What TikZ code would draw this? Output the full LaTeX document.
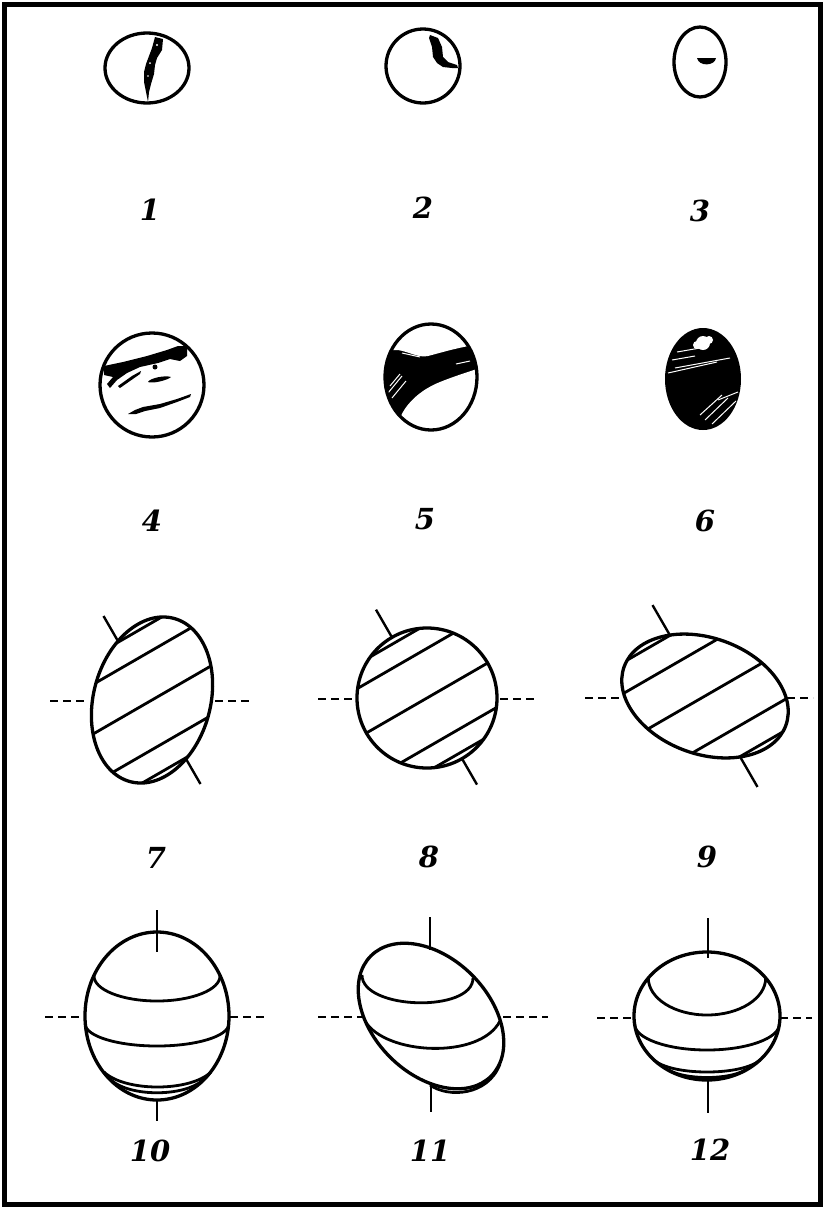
\documentclass[tikz,border=0pt]{standalone}
\usepackage{fontspec}
\newfontfamily\numfont{DejaVu Serif}
\begin{document}
\begin{tikzpicture}[x=1pt,y=1pt,
  outline/.style={line width=3.3pt},
  band/.style={line width=2.8pt},
  axisline/.style={line width=2.4pt},
  equator/.style={line width=2.6pt, dash pattern=on 8pt off 5pt},
  streak/.style={white, line width=1pt},
  lbl/.style={font=\fontsize{29}{29}\numfont\bfseries\itshape, inner sep=0pt}]
\useasboundingbox (0,0) rectangle (826,-1208);
\fill[white] (0,0) rectangle (826,-1208);
\draw[line width=5pt] (4,-4) rectangle (820,-1204);

% ---------- row 1 ----------
\draw[outline] (147,-68) ellipse [x radius=42, y radius=35];
\fill (155,-37) -- (163,-39) -- (162,-50) -- (157,-58) -- (155,-65) -- (154,-74) -- (151,-84)
  -- (149,-92) -- (148,-102) -- (146,-92) -- (144,-82) -- (144,-72) -- (146,-64) -- (149,-56)
  -- (152,-48) -- cycle;
\fill[white] (157,-45) circle [radius=1.2];
\fill[white] (150,-63) circle [radius=1];
\fill[white] (148,-76) circle [radius=0.8];

\draw[outline] (423,-66) circle [radius=37];
\fill (430,-35) -- (438,-38) -- (442,-47) -- (443,-57) -- (448,-62) -- (457,-65) -- (458,-68)
  -- (452,-68) -- (443,-67) -- (437,-63) -- (433,-57) -- (432,-47) -- (429,-38) -- cycle;

\draw[outline] (700,-62) ellipse [x radius=26, y radius=35];
\fill (697,-58) -- (716,-58) .. controls (715,-66) and (699,-67) .. (697,-58) -- cycle;

\node[lbl] (l1) at (150,-210) {1};
\node[lbl] (l2) at (423,-208) {2};
\node[lbl] (l3) at (700,-211) {3};

% ---------- row 2 ----------
\draw[outline] (152,-385) circle [radius=52];
\fill (104,-366) -- (123,-362) -- (147,-356) -- (167,-350) -- (178,-346) -- (187,-346)
  -- (187,-356) -- (180,-361) -- (170,-359) -- (158,-363) -- (140,-367) -- (127,-373)
  -- (117,-380) -- (110,-388) -- (107,-384) -- (113,-377) -- (104,-375) -- cycle;
\fill (118,-386) -- (132,-376) -- (141,-371) -- (140,-374) -- (130,-381) -- (120,-388) -- cycle;
\fill (148,-382) .. controls (150,-378) and (165,-375) .. (171,-377)
  .. controls (168,-380) and (153,-384) .. (148,-382) -- cycle;
\fill (155,-367) circle [radius=2.5];
\fill (128,-414) -- (135,-410) -- (143,-407) -- (160,-404) -- (177,-399) -- (191,-394)
  -- (190,-397) -- (177,-402) -- (160,-408) -- (145,-411) -- (136,-414) -- cycle;

\begin{scope}
  \clip (431,-377) ellipse [x radius=46, y radius=53];
  \fill (380,-320) rectangle (480,-435);
  \fill[white] (380,-320) -- (380,-350) -- (398,-350) .. controls (410,-352) and (418,-358) .. (428,-356)
    .. controls (440,-353) and (455,-348) .. (480,-344) -- (480,-320) -- cycle;
  \fill[white] (395,-440) -- (398,-424) .. controls (403,-405) and (420,-390) .. (440,-382)
    .. controls (455,-376) and (468,-372) .. (480,-368) -- (480,-440) -- cycle;
  \draw[streak] (388,-393) -- (402,-376);
  \draw[streak] (392,-398) -- (406,-381);
  \draw[streak] (390,-386) -- (400,-374);
  \draw[streak] (456,-364) -- (470,-361);
  \draw[streak] (402,-353) -- (420,-357);
\end{scope}
\draw[outline] (431,-377) ellipse [x radius=46, y radius=53];

\fill (703,-379) ellipse [x radius=38, y radius=51];
\fill[white] (703,-343) circle [radius=7];
\fill[white] (697,-345) circle [radius=4];
\fill[white] (709,-340) circle [radius=4];
\draw[streak] (668,-373) -- (717,-362);
\draw[streak] (675,-368) -- (730,-358);
\draw[streak] (677,-352) -- (700,-348);
\draw[streak] (672,-360) -- (695,-356);
\draw[streak] (700,-415) -- (722,-395);
\draw[streak] (705,-420) -- (728,-398);
\draw[streak] (712,-424) -- (736,-401);
\draw[streak] (718,-400) -- (738,-392);

\node[lbl] (l4) at (152,-521) {4};
\node[lbl] (l5) at (425,-519) {5};
\node[lbl] (l6) at (705,-521) {6};

% ---------- row 3 ----------
% 7
\draw[outline, rotate around={-15:(152,-700)}] (152,-700) ellipse [x radius=58.5, y radius=84.5];
\begin{scope}
  \clip[rotate around={-15:(152,-700)}] (152,-700) ellipse [x radius=58.5, y radius=84.5];
  \begin{scope}[shift={(152,-700)}, rotate=30]
    \foreach \d in {-43,0,43} \draw[band] (-150,\d) -- (150,\d);
    \draw[band] (-150,67) -- (150,67);
    \draw[band] (-150,-67) -- (150,-67);
  \end{scope}
\end{scope}
\begin{scope}[shift={(152,-700)}, rotate=30]
  \draw[axisline] (0,68) -- (0,97);
  \draw[axisline] (0,-68) -- (0,-97);
\end{scope}
\draw[equator] (50,-701) -- (87,-701);
\draw[equator] (215,-701) -- (253,-701);

% 8
\draw[outline] (427,-698) circle [radius=70];
\begin{scope}
  \clip (427,-698) circle [radius=70];
  \begin{scope}[shift={(427,-698)}, rotate=30]
    \foreach \d in {-43,0,43} \draw[band] (-150,\d) -- (150,\d);
    \draw[band] (-150,64) -- (150,64);
    \draw[band] (-150,-64) -- (150,-64);
  \end{scope}
\end{scope}
\begin{scope}[shift={(427,-698)}, rotate=30]
  \draw[axisline] (0,70) -- (0,102);
  \draw[axisline] (0,-70) -- (0,-100);
\end{scope}
\draw[equator] (318,-699) -- (355,-699);
\draw[equator] (500,-699) -- (538,-699);

% 9
\draw[outline, rotate around={-20:(705,-696)}] (705,-696) ellipse [x radius=86, y radius=58];
\begin{scope}
  \clip[rotate around={-20:(705,-696)}] (705,-696) ellipse [x radius=86, y radius=58];
  \begin{scope}[shift={(705,-696)}, rotate=30]
    \foreach \d in {-43,0,43} \draw[band] (-150,\d) -- (150,\d);
    \draw[band] (-150,70) -- (150,70);
    \draw[band] (-150,-70) -- (150,-70);
  \end{scope}
\end{scope}
\begin{scope}[shift={(705,-696)}, rotate=30]
  \draw[axisline] (0,71) -- (0,105);
  \draw[axisline] (0,-71) -- (0,-105);
\end{scope}
\draw[equator] (585,-698) -- (622,-698);
\draw[equator] (787,-698) -- (813,-698);

\node[lbl] (l7) at (156,-858) {7};
\node[lbl] (l8) at (429,-857) {8};
\node[lbl] (l9) at (707,-857) {9};

% ---------- row 4 ----------
% 10
\begin{scope}
  \clip (157,-1016) ellipse [x radius=72, y radius=84];
  \draw[band] (94,-976) arc [start angle=180, end angle=360, x radius=63, y radius=25];
  \draw[band] (85.3,-1024) arc [start angle=180, end angle=360, x radius=71.7, y radius=22];
\end{scope}
\draw[band] (104,-1072) .. controls (125,-1092) and (190,-1092) .. (211,-1072);
\draw[band] (111,-1080) .. controls (130,-1097) and (184,-1097) .. (203,-1080);
\draw[outline] (157,-1016) ellipse [x radius=72, y radius=84];
\draw[axisline] (157,-910) -- (157,-952);
\draw[axisline] (157,-1100) -- (157,-1121);
\draw[equator] (45,-1017) -- (83,-1017);
\draw[equator] (230,-1017) -- (268,-1017);

% 11
\begin{scope}
  \clip[rotate around={-45:(431,-1016)}] (431,-1016) ellipse [x radius=85, y radius=58];
  \draw[band] (362,-975) .. controls (362,-1010) and (473,-1013) .. (473,-978);
  \draw[band] (365,-1021) .. controls (385,-1055) and (480,-1060) .. (500,-1021);
\end{scope}
\draw[outline, rotate around={-45:(431,-1016)}] (431,-1016) ellipse [x radius=85, y radius=58];
\draw[band] (430,-1085) .. controls (448,-1098) and (488,-1096) .. (500,-1064);
\draw[axisline] (430,-917) -- (430,-950);
\draw[axisline] (431,-1082) -- (431,-1112);
\draw[equator] (318,-1017) -- (362,-1017);
\draw[equator] (503,-1017) -- (548,-1017);

% 12
\begin{scope}
  \clip (707,-1016) ellipse [x radius=73, y radius=64];
  \draw[band] (648.3,-978) arc [start angle=180, end angle=360, x radius=58.7, y radius=37];
  \draw[band] (634.6,-1024) arc [start angle=180, end angle=360, x radius=72.4, y radius=26];
\end{scope}
\draw[band] (654,-1060) .. controls (672,-1076) and (742,-1076) .. (760,-1060);
\draw[band] (669,-1070) .. controls (685,-1080) and (729,-1080) .. (745,-1070);
\draw[outline] (707,-1016) ellipse [x radius=73, y radius=64];
\draw[axisline] (708,-918) -- (708,-958);
\draw[axisline] (708,-1078) -- (708,-1113);
\draw[equator] (597,-1018) -- (633,-1018);
\draw[equator] (780,-1018) -- (812,-1018);

\node[lbl] (l10) at (150,-1151) {10};
\node[lbl] (l11) at (430,-1151) {11};
\node[lbl] (l12) at (710,-1150) {12};
\end{tikzpicture}
\end{document}
